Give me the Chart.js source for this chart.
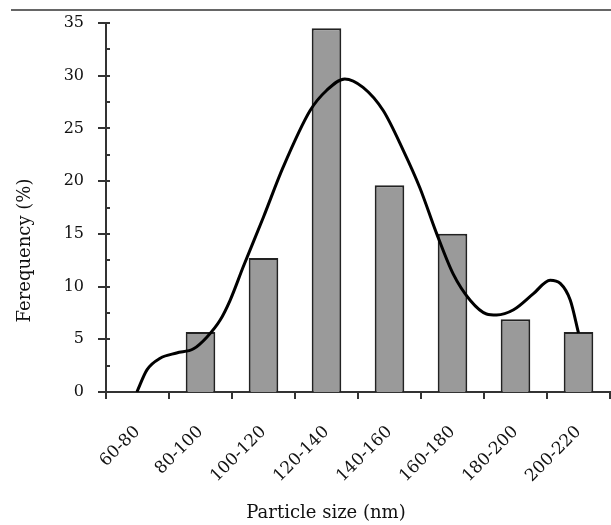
<!DOCTYPE html>
<html>
<head>
<meta charset="utf-8">
<script src="https://cdn.jsdelivr.net/npm/chart.js@4.4.1/dist/chart.umd.min.js"></script>
<style>
  html, body { margin: 0; padding: 0; background: #fff; }
  #wrap { width: 611px; height: 525px; position: relative; }
</style>
</head>
<body>
<div id="wrap"><canvas id="chart"></canvas></div>
<script>
// bins and bar heights
const sizeLabels = ['60-80', '80-100', '100-120', '120-140', '140-160', '160-180', '180-200', '200-220'];
const frequency = [0, 5.7, 12.7, 34.5, 19.6, 15.0, 6.9, 5.7];

// fitted curve (x in bin units, 0 = left edge of first bin)
const curveX = [0.49, 0.65, 0.86, 1.12, 1.39, 1.60, 1.81, 1.97, 2.18, 2.50, 2.81, 3.24, 3.50, 3.79,
                4.08, 4.40, 4.72, 4.98, 5.25, 5.51, 5.78, 6.04, 6.20, 6.47, 6.78, 7.05, 7.21, 7.37, 7.50];
const curveY = [0, 2.1, 3.2, 3.7, 4.1, 5.2, 6.8, 8.7, 11.9, 16.6, 21.3, 26.7, 28.6, 29.7,
                28.9, 26.7, 22.9, 19.4, 15.0, 11.2, 8.7, 7.4, 7.3, 7.8, 9.3, 10.6, 10.3, 8.7, 5.6];

const FONT = 'DejaVu Serif';

// axis lines, crossing ticks, minor ticks and titles like the original figure
const axesPlugin = {
  id: 'axesLook',
  beforeDatasetsDraw(chart) {
    const ctx = chart.ctx;
    const y = chart.scales.y;
    const xl = chart.scales.xl;
    const a = chart.chartArea;
    ctx.save();
    ctx.strokeStyle = '#333';
    ctx.lineWidth = 2;
    ctx.beginPath();
    ctx.moveTo(a.left - 8, a.bottom);
    ctx.lineTo(a.right + 1, a.bottom);
    ctx.moveTo(a.left, a.top);
    ctx.lineTo(a.left, a.bottom + 7);
    ctx.stroke();

    ctx.beginPath();
    for (let v = 0; v <= 35; v += 2.5) {
      const py = Math.round(y.getPixelForValue(v));
      const major = v % 5 === 0;
      ctx.moveTo(major ? a.left - 8 : a.left, py);
      ctx.lineTo(a.left + 4, py);
    }
    for (let i = 1; i <= sizeLabels.length; i++) {
      const px = Math.round(xl.getPixelForValue(i));
      ctx.moveTo(px, a.bottom);
      ctx.lineTo(px, a.bottom + 7);
    }
    ctx.stroke();
    ctx.restore();
  },
  afterDraw(chart) {
    const ctx = chart.ctx;
    const a = chart.chartArea;
    ctx.save();
    // rule across the top
    ctx.strokeStyle = '#666';
    ctx.lineWidth = 2;
    ctx.beginPath();
    ctx.moveTo(11, 10);
    ctx.lineTo(chart.width, 10);
    ctx.stroke();

    ctx.fillStyle = '#111';
    ctx.font = '18px "' + FONT + '"';
    ctx.textAlign = 'center';
    ctx.textBaseline = 'middle';
    ctx.fillText('Particle size (nm)', (a.left + a.right) / 2 - 32, 513);
    ctx.translate(25, (a.top + a.bottom) / 2 + 43);
    ctx.rotate(-Math.PI / 2);
    ctx.fillText('Ferequency (%)', 0, 0);
    ctx.restore();
  }
};

const chart = new Chart(document.getElementById('chart'), {
  type: 'bar',
  data: {
    labels: sizeLabels,
    datasets: [
      {
        type: 'line',
        data: curveX.map((x, i) => ({ x: x, y: curveY[i] })),
        xAxisID: 'xl',
        yAxisID: 'y',
        borderColor: '#000',
        borderWidth: 3,
        pointRadius: 0,
        fill: false,
        cubicInterpolationMode: 'monotone',
        order: 0
      },
      {
        data: frequency,
        xAxisID: 'x',
        yAxisID: 'y',
        backgroundColor: '#9a9a9a',
        borderColor: '#222',
        borderWidth: 2,
        borderSkipped: 'bottom',
        grouped: false,
        barPercentage: 0.47,
        categoryPercentage: 1,
        order: 1
      }
    ]
  },
  options: {
    responsive: true,
    maintainAspectRatio: false,
    animation: false,
    layout: { padding: { top: 23, right: 1, left: 0, bottom: 0 } },
    plugins: { legend: { display: false }, tooltip: { enabled: false } },
    scales: {
      x: {
        type: 'category',
        offset: true,
        grid: { display: false, drawTicks: false },
        border: { display: false },
        ticks: {
          color: '#111',
          font: { family: FONT, size: 17 },
          minRotation: 45,
          maxRotation: 45,
          padding: 30,
          autoSkip: false
        },
        afterFit(scale) {
          scale.height = 133;
          scale.paddingLeft = 0;
          scale.paddingRight = 0;
        }
      },
      xl: {
        type: 'linear',
        display: false,
        offset: false,
        min: 0,
        max: sizeLabels.length
      },
      y: {
        min: 0,
        max: 35,
        grid: { display: false, drawTicks: false },
        border: { display: false },
        ticks: {
          stepSize: 5,
          color: '#111',
          font: { family: FONT, size: 16 },
          padding: 22
        },
        afterFit(scale) {
          scale.width = 106;
          scale.paddingTop = 0;
          scale.paddingBottom = 0;
        }
      }
    }
  },
  plugins: [axesPlugin]
});
</script>
</body>
</html>
